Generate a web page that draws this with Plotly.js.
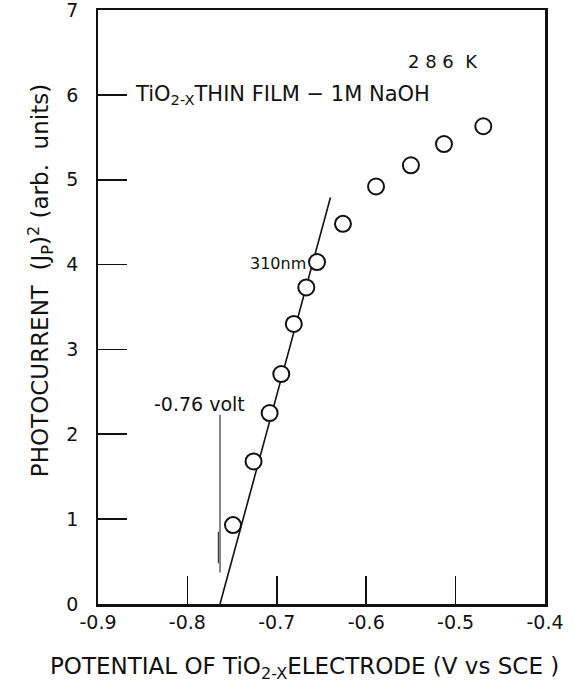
<!DOCTYPE html>
<html>
<head>
<meta charset="utf-8">
<script src="https://cdn.plot.ly/plotly-3.0.1.min.js"></script>
<style>html,body{margin:0;padding:0;background:#fff;}#chart{width:579px;height:689px;}</style>
</head>
<body>
<div id="chart"></div>
<script>
// Measured points: potential (V vs SCE) and photocurrent squared (arb. units)
const potential = [-0.749, -0.726, -0.708, -0.695, -0.681, -0.667, -0.655, -0.626, -0.589, -0.550, -0.513, -0.469];
const photocurrentSq = [0.93, 1.68, 2.25, 2.71, 3.30, 3.73, 4.03, 4.48, 4.92, 5.17, 5.42, 5.63];

// Straight-line fit through the low-potential points
const fitX = [-0.7635, -0.640];
const fitY = [0, 4.79];

// Vertical marker at the intercept (-0.76 volt)
const markX = [-0.7635, -0.7635];
const markY = [0.37, 2.23];
const markX2 = [-0.7654, -0.7654];
const markY2 = [0.48, 0.85];

const xTicks = [-0.9, -0.8, -0.7, -0.6, -0.5, -0.4];
const xTickText = ['-0.9', '-0.8', '-0.7', '-0.6', '-0.5', '-0.4'];
const yTicks = [0, 1, 2, 3, 4, 5, 6, 7];
const yTickText = ['0', '1', '2', '3', '4', '5', '6', '7'];

const FONT = 'DejaVu Sans, Liberation Sans, sans-serif';
const PAD = '\u2002\u2009';

const traces = [
  {x: fitX, y: fitY, mode: 'lines', line: {color: '#111', width: 1.6}, hoverinfo: 'skip', showlegend: false},
  {x: markX, y: markY, mode: 'lines', line: {color: '#111', width: 1}, hoverinfo: 'skip', showlegend: false},
  {x: markX2, y: markY2, mode: 'lines', line: {color: '#111', width: 1}, hoverinfo: 'skip', showlegend: false},
  {x: potential, y: photocurrentSq, mode: 'markers',
   marker: {symbol: 'circle', size: 16, color: '#fff', line: {color: '#111', width: 2}},
   showlegend: false}
];

const layout = {
  width: 579, height: 689,
  margin: {l: 98, r: 34, t: 10, b: 85},
  paper_bgcolor: '#fff', plot_bgcolor: '#fff',
  font: {family: FONT, color: '#111', size: 19},
  xaxis: {
    range: [-0.9, -0.4], tickmode: 'array', tickvals: xTicks, ticktext: xTickText,
    ticks: 'inside', ticklen: 28, tickwidth: 1.6, tickcolor: '#111',
    showline: true, linewidth: 2.5, linecolor: '#111', mirror: true,
    showgrid: false, zeroline: false, ticklabeloverflow: 'allow',
    tickfont: {family: FONT, size: 19, color: '#111'}
  },
  yaxis: {
    range: [0, 7], tickmode: 'array', tickvals: yTicks, ticktext: yTickText.map(t => t + PAD),
    ticks: 'inside', ticklen: 29, tickwidth: 1.6, tickcolor: '#111',
    showline: true, linewidth: 2.5, linecolor: '#111', mirror: true,
    showgrid: false, zeroline: false, ticklabeloverflow: 'allow',
    tickfont: {family: FONT, size: 19, color: '#111'}
  },
  annotations: [
    {text: 'TiO<sub>2-X</sub>THIN FILM − 1M NaOH', xref: 'paper', yref: 'y', x: 0.078, y: 6.0,
     xanchor: 'left', yanchor: 'middle', showarrow: false, font: {family: FONT, size: 21, color: '#111'}},
    {text: '2 8 6  K', xref: 'paper', yref: 'paper', x: 0.69, y: 0.914,
     xanchor: 'left', yanchor: 'middle', showarrow: false, font: {family: FONT, size: 18, color: '#111'}},
    {text: '310nm', xref: 'paper', yref: 'paper', x: 0.336, y: 0.574,
     xanchor: 'left', yanchor: 'middle', showarrow: false, font: {family: FONT, size: 16, color: '#111'}},
    {text: '-0.76 volt', xref: 'paper', yref: 'paper', x: 0.12, y: 0.337,
     xanchor: 'left', yanchor: 'middle', showarrow: false, font: {family: FONT, size: 19, color: '#111'}},
    {text: 'PHOTOCURRENT  (J<sub>P</sub>)<sup>2</sup> (arb.  units)', xref: 'paper', yref: 'paper', x: -0.13, y: 0.545,
     xanchor: 'center', yanchor: 'middle', textangle: -90, showarrow: false, font: {family: FONT, size: 23, color: '#111'}},
    {text: 'POTENTIAL OF TiO<sub>2-X</sub>ELECTRODE (V vs SCE )', xref: 'paper', yref: 'paper', x: 0.463, y: -0.108,
     xanchor: 'center', yanchor: 'middle', showarrow: false, font: {family: FONT, size: 23, color: '#111'}}
  ]
};

Plotly.newPlot('chart', traces, layout, {displayModeBar: false, staticPlot: true});
</script>
</body>
</html>
